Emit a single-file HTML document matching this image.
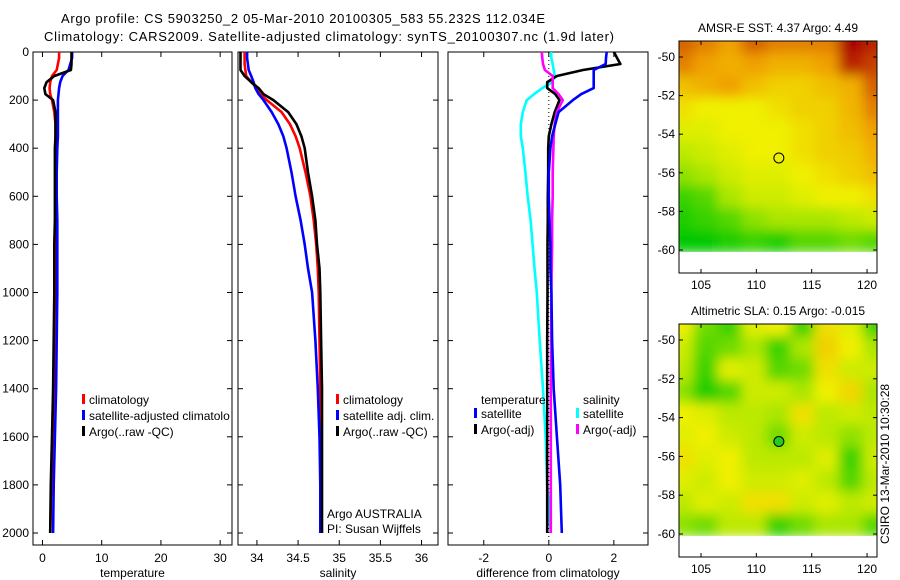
<!DOCTYPE html>
<html><head><meta charset="utf-8"><style>
body{margin:0;background:#fff;}
svg{display:block;font-family:"Liberation Sans",sans-serif;}
</style></head><body>
<svg id="s" width="900" height="580" viewBox="0 0 900 580">
<defs><filter id="bl" x="0" y="0" width="1" height="1"><feGaussianBlur stdDeviation="6"/></filter>
<clipPath id="c1"><rect x="679" y="41" width="198" height="211"/></clipPath>
<clipPath id="c2"><rect x="679" y="324" width="198" height="212"/></clipPath></defs>
<text x="61" y="23" font-size="13" textLength="484">Argo profile: CS 5903250_2 05-Mar-2010 20100305_583 55.232S 112.034E</text>
<text x="44" y="41" font-size="13" textLength="570">Climatology: CARS2009. Satellite-adjusted climatology: synTS_20100307.nc (1.9d later)</text>
</svg>
<script>
const S=document.getElementById('s');const NS='http://www.w3.org/2000/svg';
function el(t,a,p){const e=document.createElementNS(NS,t);for(const k in a)e.setAttribute(k,a[k]);(p||S).appendChild(e);return e;}
// ---- data ----
const depths=[0,25,50,75,100,125,150,175,200,250,300,350,400,500,600,700,800,900,1000,1200,1400,1600,1800,2000];
const tempClim=[2.8,2.8,2.6,2.4,1.6,1.3,1.2,1.3,1.6,2.0,2.2,2.2,2.2,2.2,2.2,2.2,2.1,2.1,2.1,2.0,1.9,1.7,1.5,1.3];
const tempSat=[5.0,5.0,4.7,4.4,3.4,3.0,2.8,2.7,2.6,2.6,2.6,2.6,2.5,2.4,2.4,2.5,2.5,2.5,2.5,2.4,2.3,2.1,1.9,1.8];
const tempArgo=[4.9,4.9,4.9,4.8,2.0,0.7,0.3,0.5,1.8,2.2,2.2,2.2,2.1,2.1,2.1,2.1,2.0,2.0,2.0,1.9,1.8,1.6,1.4,1.3];
const salClim=[33.85,33.85,33.85,33.86,33.87,33.93,34.0,34.04,34.12,34.3,34.4,34.47,34.52,34.59,34.65,34.69,34.72,34.74,34.75,34.76,34.77,34.77,34.77,34.77];
const salSat=[33.88,33.88,33.89,33.9,33.93,33.96,33.98,34.02,34.08,34.18,34.26,34.32,34.36,34.42,34.47,34.53,34.58,34.62,34.67,34.71,34.74,34.76,34.77,34.77];
const salArgo=[33.8,33.8,33.8,33.8,33.85,33.93,34.02,34.08,34.2,34.38,34.48,34.54,34.58,34.62,34.67,34.71,34.73,34.76,34.77,34.78,34.79,34.79,34.79,34.79];
const dTempSat=[1.78,1.76,1.75,1.38,1.38,1.38,1.38,1.0,0.74,0.3,0.2,0.1,0.05,0.0,0.0,0.02,0.05,0.05,0.08,0.1,0.15,0.25,0.35,0.4];
const dTempArgo=[2.0,2.1,2.2,1.05,0.25,-0.05,-0.05,0.2,0.33,0.18,0.08,0.0,-0.02,-0.02,-0.03,-0.03,-0.04,-0.04,-0.04,-0.05,-0.05,-0.05,-0.05,-0.05];
const dSalSat=[0.07,0.08,0.12,0.15,0.18,0.1,-0.2,-0.45,-0.68,-0.8,-0.86,-0.86,-0.8,-0.72,-0.65,-0.56,-0.5,-0.44,-0.37,-0.28,-0.18,-0.1,-0.05,0.06];
const dSalArgo=[-0.22,-0.2,-0.18,-0.12,0.12,0.12,0.12,0.3,0.43,0.25,0.18,0.15,0.14,0.12,0.12,0.1,0.1,0.09,0.08,0.07,0.06,0.06,0.06,0.06];
const depthTicks=[0,200,400,600,800,1000,1200,1400,1600,1800,2000];
const tempTicks=[0,10,20,30];
const salTicks=[34,34.5,35,35.5,36];
const salTickLabels=['34','34.5','35','35.5','36'];
const diffTicks=[-2,0,2];
const latTicks=[-50,-52,-54,-56,-58,-60];
const lonTicks=[105,110,115,120];
const sstGrid=[
[.85,.8,.75,.85,.8,.8,.8,1,.95],
[.8,.75,.7,.75,.7,.7,.75,.95,.9],
[.65,.7,.75,.65,.6,.6,.65,.7,.85],
[.55,.5,.5,.5,.55,.6,.6,.68,.8],
[.45,.45,.5,.5,.5,.55,.6,.66,.75],
[.35,.4,.45,.5,.5,.55,.6,.62,.7],
[.25,.3,.4,.45,.45,.5,.55,.6,.65],
[.1,.15,.3,.4,.4,.45,.5,.5,.55],
[.05,.1,.15,.25,.3,.3,.3,.35,.4],
[0,0,.05,.1,.05,.15,.15,.2,.15]];
const slaGrid=[
[.5,.2,.1,.45,.5,.1,.55,.45,.1],
[.4,.15,.2,.3,.1,.3,.6,.5,.3],
[.35,.1,.45,.4,.15,.2,.55,.4,.4],
[.25,.05,.15,.4,.4,.3,.5,.58,.3],
[.5,.45,.35,.35,.3,.55,.35,.4,.35],
[.45,.5,.4,.35,.2,.4,.35,.25,.35],
[.55,.45,.5,.35,.35,.35,.45,.1,.4],
[.45,.4,.5,.4,.4,.45,.35,.15,.35],
[.35,.45,.4,.55,.55,.4,.45,.35,.4],
[.25,.2,.35,.35,.1,.2,.3,.3,.15]];
const argoPos=[112.034,-55.232];
// ---- axes ----
const Y=d=>52+d*0.2405;
const panels=[
 {x0:33,x1:232,v0:-1.6,v1:32,ticks:tempTicks,labs:tempTicks.map(String),label:'temperature',name:'temperature'},
 {x0:238,x1:438,v0:33.77,v1:36.2,ticks:salTicks,labs:salTickLabels,label:'salinity',name:'salinity'},
 {x0:448,x1:648,v0:-3.1,v1:3.05,ticks:diffTicks,labs:diffTicks.map(String),label:'difference from climatology',name:'difference'}];
panels.forEach(p=>{p.X=v=>p.x0+(v-p.v0)/(p.v1-p.v0)*(p.x1-p.x0);
 const g=el('g',{});
 el('rect',{x:p.x0,y:52,width:p.x1-p.x0,height:493,fill:'none',stroke:'#000','stroke-width':1},g);
 p.ticks.forEach((t,i)=>{const x=p.X(t);el('line',{x1:x,x2:x,y1:52,y2:57,stroke:'#000'},g);el('line',{x1:x,x2:x,y1:545,y2:540,stroke:'#000'},g);
  const tx=el('text',{x:x,y:562,'font-size':12,'text-anchor':'middle'},g);tx.textContent=p.labs[i];
  });
 depthTicks.forEach(d=>{el('line',{x1:p.x0,x2:p.x0+5,y1:Y(d),y2:Y(d),stroke:'#000'},g);el('line',{x1:p.x1,x2:p.x1-5,y1:Y(d),y2:Y(d),stroke:'#000'},g);});
 const lt=el('text',{x:(p.x0+p.x1)/2,y:577,'font-size':12,'text-anchor':'middle'},g);lt.textContent=p.label;
 
});
depthTicks.forEach(d=>{const t=el('text',{x:29,y:Y(d)+4,'font-size':12,'text-anchor':'end'});t.textContent=d;
 });
// zero dotted line
el('line',{x1:panels[2].X(0),x2:panels[2].X(0),y1:52,y2:545,stroke:'#000','stroke-dasharray':'1,3'});
function line(p,vals,col,name){const pts=vals.map((v,i)=>p.X(v).toFixed(1)+','+Y(depths[i]).toFixed(1)).join(' ');
 const l=el('polyline',{points:pts,fill:'none',stroke:col,'stroke-width':2.6,'stroke-linejoin':'round'});
 }
line(panels[0],tempClim,'#f00','temp-climatology-line');line(panels[0],tempSat,'#00f','temp-satellite-line');line(panels[0],tempArgo,'#000','temp-argo-line');
line(panels[1],salClim,'#f00','sal-climatology-line');line(panels[1],salSat,'#00f','sal-satellite-line');line(panels[1],salArgo,'#000','sal-argo-line');
line(panels[2],dSalSat,'#0ff','diff-sal-satellite-line');line(panels[2],dTempArgo,'#000','diff-temp-argo-line');line(panels[2],dSalArgo,'#f0f','diff-sal-argo-line');line(panels[2],dTempSat,'#00f','diff-temp-satellite-line');
// legends
function leg(x,y,col,txt){const g=el('g',{});
 if(col)el('rect',{x:x,y:y-10,width:3,height:10,fill:col},g);const t=el('text',{x:x+7,y:y,'font-size':12},g);t.textContent=txt;}
leg(82,404,'#f00','climatology');leg(82,420,'#00f','satellite-adjusted climatolo');leg(82,436,'#000','Argo(..raw -QC)');
leg(336,404,'#f00','climatology');leg(336,420,'#00f','satellite adj. clim.');leg(336,436,'#000','Argo(..raw -QC)');
leg(474,404,null,'temperature');leg(474,418,'#00f','satellite');leg(474,434,'#000','Argo(-adj)');
leg(576,404,null,'salinity');leg(576,418,'#0ff','satellite');leg(576,434,'#f0f','Argo(-adj)');
leg(320,518,null,'Argo AUSTRALIA');leg(320,533,null,'PI: Susan Wijffels');
// maps
function cmap(t){const st=[[0,[0,200,0]],[.3,[170,230,0]],[.5,[240,240,0]],[.75,[240,160,0]],[1,[170,0,0]]];
 for(let i=1;i<st.length;i++)if(t<=st[i][0]){const a=st[i-1],b=st[i],f=(t-a[0])/(b[0]-a[0]);return 'rgb('+a[1].map((c,k)=>Math.round(c+(b[1][k]-c)*f)).join(',')+')';}return 'rgb(170,0,0)';}
function map(grid,top,bot,title,name,clip,dotFill){
 const L=679,R=877,latY=lat=>top+16+(-50-lat)*((bot-top-39)/10),lonX=lon=>701+(lon-105)*11.07;
 const g=el('g',{});
 const cg=el('g',{'clip-path':'url(#'+clip+')'},g);const bg=el('g',{filter:'url(#bl)'},cg);
 const y0=top,y1=latY(-60.1),rows=grid.length,cols=grid[0].length;
 grid.forEach((r,i)=>r.forEach((v,j)=>{const c=el('rect',{x:L-10+j*(R-L+20)/cols,y:y0-10+i*(y1-y0+10)/rows,width:(R-L+20)/cols+1,height:(y1-y0+10)/rows+1,fill:cmap(v)},bg);
  }));
 el('rect',{x:L,y:y1,width:R-L,height:bot-y1,fill:'#fff'},g);
 el('rect',{x:L,y:top,width:R-L,height:bot-top,fill:'none',stroke:'#000'},g);
 latTicks.forEach(l=>{const y=latY(l);el('line',{x1:L,x2:L+4,y1:y,y2:y,stroke:'#000'},g);el('line',{x1:R,x2:R-4,y1:y,y2:y,stroke:'#000'},g);
  const t=el('text',{x:675,y:y+4,'font-size':12,'text-anchor':'end'},g);t.textContent=l;});
 lonTicks.forEach(l=>{const x=lonX(l);el('line',{x1:x,x2:x,y1:top,y2:top+4,stroke:'#000'},g);el('line',{x1:x,x2:x,y1:bot,y2:bot-4,stroke:'#000'},g);
  const t=el('text',{x:x,y:bot+16,'font-size':12,'text-anchor':'middle'},g);t.textContent=l;});
 const tt=el('text',{x:(L+R)/2,y:top-9,'font-size':12,'text-anchor':'middle'},g);tt.textContent=title;
 const dot=el('circle',{cx:lonX(argoPos[0]),cy:latY(argoPos[1]),r:5,fill:dotFill,stroke:'#000'},g);
 }
map(sstGrid,41,273,'AMSR-E SST: 4.37 Argo: 4.49','sst-map','c1','none');
map(slaGrid,324,557,'Altimetric SLA: 0.15 Argo: -0.015','sla-map','c2','#2c2');
const cs=el('text',{x:0,y:0,'font-size':12,transform:'translate(889,544) rotate(-90)'});cs.textContent='CSIRO 13-Mar-2010 10:30:28';

</script>
</body></html>
